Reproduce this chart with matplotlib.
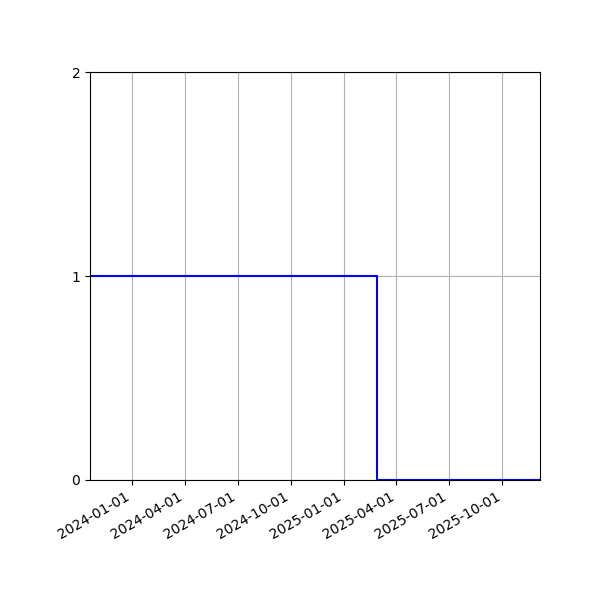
import matplotlib
matplotlib.use('Agg')

import matplotlib.pyplot as plt
import matplotlib.dates as mdates
import numpy as np

# status series (step data)
dates = np.array(['2023-10-20', '2025-02-26', '2025-12-05'], dtype='datetime64[D]')
values = [1, 0, 0]
yticks = [0, 1, 2]

fig, ax = plt.subplots(figsize=(6, 6), dpi=100)
ax.plot(dates, values, color='blue', drawstyle='steps-post')

ax.set_xlim(dates[0], dates[-1])
ax.set_ylim(0, 2)
ax.set_yticks(yticks)
ax.xaxis.set_major_locator(mdates.MonthLocator(bymonth=[1, 4, 7, 10]))
ax.xaxis.set_major_formatter(mdates.DateFormatter('%Y-%m-%d'))
ax.grid(True)
fig.autofmt_xdate()
fig.subplots_adjust(left=0.15, right=0.9, top=0.88, bottom=0.2)

plt.savefig('out.png')
plt.close()
